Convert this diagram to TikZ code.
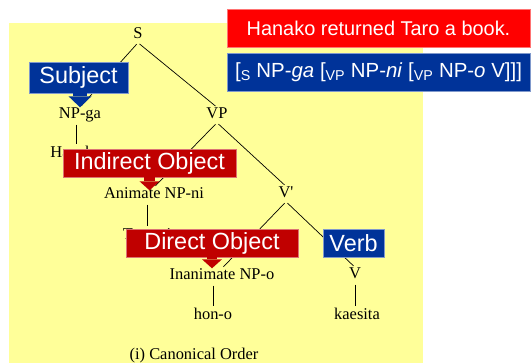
\documentclass[tikz,border=0pt]{standalone}
\usepackage{fontspec}
\setmainfont{Liberation Serif}
\setsansfont{Liberation Sans}
\usetikzlibrary{arrows.meta,positioning}
\definecolor{bgyellow}{RGB}{255,255,153}
\definecolor{hlred}{RGB}{255,0,0}
\definecolor{lblred}{RGB}{192,0,0}
\definecolor{lblblue}{RGB}{0,51,153}

\begin{document}
\begin{tikzpicture}[x=1bp,y=-1bp,
        word/.style={font=\fontsize{16.5}{18}\selectfont,inner sep=0pt,
          text height=11bp,text depth=4bp},
        branch/.style={line width=.7bp,shorten <=2bp,shorten >=2bp},
        tag/.style={font=\sffamily\fontsize{23.5}{26}\selectfont,text=white,
          inner sep=0pt,minimum height=28bp,line width=.8bp},
        banner/.style={font=\sffamily\fontsize{20}{24}\selectfont,text=white,
          inner sep=0pt,minimum width=303bp,minimum height=38bp,line width=.8bp},
        pointer/.style={line width=11bp,
          -{Triangle[width=20bp,length=9bp,line width=0pt]}}]
        \useasboundingbox (0,0) rectangle (531,363);
        \fill[bgyellow] (9,23) rectangle (423,363);

        % Phrase structure tree.
        \node[word] (s) at (138,35) {S};
        \node[word] (npga) at (80,115) {NP-ga};
        \node[word] (vp) at (217,115) {VP};
        \node[word] (hanako) at (76,154) {Hanako};
        \node[word] (npni) at (154,195) {Animate NP-ni};
        \node[word] (vbar) at (286,194) {V\textquotesingle};
        \node[word] (taro) at (147,236) {Taro-ni};
        \node[word] (npo) at (222,276) {Inanimate NP-o};
        \node[word] (v) at (355,275) {V};
        \node[word] (hon) at (213,316) {hon-o};
        \node[word] (kaesita) at (357,316) {kaesita};
        \node[word] (caption) at (194,356) {(i) Canonical Order};

        \draw[branch] (s.south) -- (npga.north);
        \draw[branch] (s.south) -- (vp.north);
        \draw[branch] (vp.south) -- (npni.north);
        \draw[branch] (vp.south) -- (vbar.north);
        \draw[branch] (vbar.south) -- (npo.north);
        \draw[branch] (vbar.south) -- (v.north);
        \draw[branch] (hanako.north |- npga.south) -- (hanako.north);
        \draw[branch] (taro.north |- npni.south) -- (taro.north);
        \draw[branch] (hon.north |- npo.south) -- (hon.north);
        \draw[branch] (v.south) -- (v.south |- kaesita.north);

        % Sentence and its bracketing.
        \node[banner,fill=hlred,draw=hlred!55!white] (sentence) at (378.5,28)
          {Hanako returned Taro a book.};
        \node[banner,fill=lblblue,draw=lblblue!50!white,
          font=\sffamily\fontsize{20.5}{24}\selectfont] (bracket) at (378.5,72)
          {[\textsubscript{S} NP-\textit{ga} [\textsubscript{VP} NP-\textit{ni}
           [\textsubscript{VP} NP-\textit{o} V]]]};

        % Grammatical function labels.
        \node[tag,fill=lblblue,draw=lblblue!50!white,minimum width=99bp,
          minimum height=31bp] (subj) at (78.5,77.5) {Subject};
        \node[tag,fill=lblred,draw=lblred!55!white,minimum width=173bp]
          (iobj) at (149.5,163) {Indirect Object};
        \node[tag,fill=lblred,draw=lblred!55!white,minimum width=172bp]
          (dobj) at (212,243) {Direct Object};
        \node[tag,fill=lblblue,draw=lblblue!50!white,minimum width=61bp]
          (verb) at (353.5,243) {Verb};

        \draw[pointer,lblblue,line width=14bp,
          -{Triangle[width=23bp,length=11bp,line width=0pt]}]
          (subj.south -| npga.north) -- (npga.north);
        \draw[pointer,lblred,shorten >=-3bp] (iobj.south) -- (iobj.south |- npni.north);
        \draw[pointer,lblred,line width=10bp] (dobj.south) -- (dobj.south |- npo.north);
      \end{tikzpicture}
\end{document}
